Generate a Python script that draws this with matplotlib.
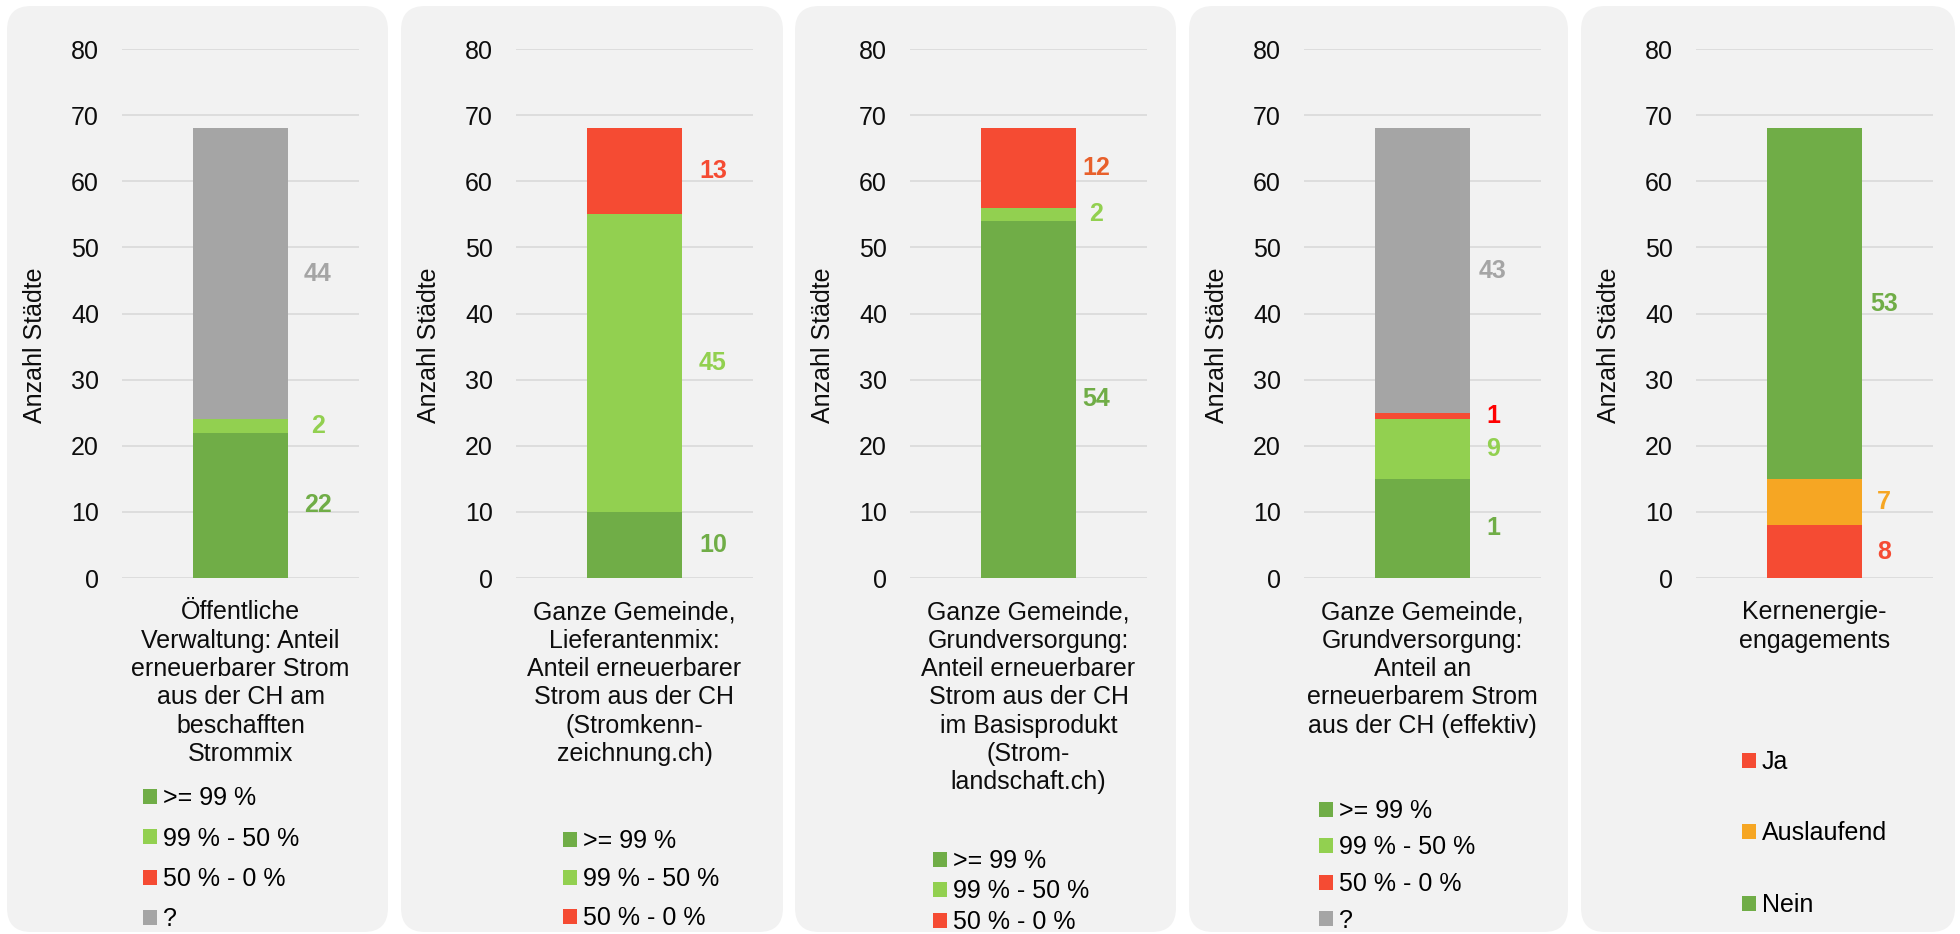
import matplotlib
matplotlib.use("Agg")
import matplotlib.pyplot as plt
from matplotlib.patches import FancyBboxPatch

plt.rcParams['font.family'] = ['Liberation Sans', 'DejaVu Sans']

# ---------------- data ----------------
categories = [
    "Öffentliche\nVerwaltung: Anteil\nerneuerbarer Strom\naus der CH am\nbeschafften\nStrommix",
    "Ganze Gemeinde,\nLieferantenmix:\nAnteil erneuerbarer\nStrom aus der CH\n(Stromkenn-\nzeichnung.ch)",
    "Ganze Gemeinde,\nGrundversorgung:\nAnteil erneuerbarer\nStrom aus der CH\nim Basisprodukt\n(Strom-\nlandschaft.ch)",
    "Ganze Gemeinde,\nGrundversorgung:\nAnteil an\nerneuerbarem Strom\naus der CH (effektiv)",
    "Kernenergie-\nengagements",
]
share_series = [">= 99 %", "99 % - 50 %", "50 % - 0 %", "?"]
nuclear_series = ["Ja", "Auslaufend", "Nein"]

p1_values = [22, 2, 0, 44]
p2_values = [10, 45, 13]
p3_values = [54, 2, 12]
p4_values = [15, 9, 1, 43]
p4_shown_labels = ["1", "9", "1", "43"]
p5_values = [8, 7, 53]

y_ticks = [0, 10, 20, 30, 40, 50, 60, 70, 80]
y_label = "Anzahl Städte"

# ---------------- styles ----------------
DGREEN, LGREEN, RED, GREY, ORANGE = "#70ad47", "#92d050", "#f54b33", "#a5a5a5", "#f6a623"

panels = [
    dict(series=share_series, values=p1_values, shown=None,
         colors=[DGREEN, LGREEN, RED, GREY],
         label_colors=[DGREEN, LGREEN, RED, GREY]),
    dict(series=share_series[:3], values=p2_values, shown=None,
         colors=[DGREEN, LGREEN, RED],
         label_colors=[DGREEN, LGREEN, RED]),
    dict(series=share_series[:3], values=p3_values, shown=None,
         colors=[DGREEN, LGREEN, RED],
         label_colors=[DGREEN, LGREEN, "#e8602b"]),
    dict(series=share_series, values=p4_values, shown=p4_shown_labels,
         colors=[DGREEN, LGREEN, RED, GREY],
         label_colors=[DGREEN, LGREEN, "#ff0000", GREY]),
    dict(series=nuclear_series, values=p5_values, shown=None,
         colors=[RED, ORANGE, DGREEN],
         label_colors=[RED, ORANGE, DGREEN]),
]

W, H, DPI = 1960, 934, 100
panel_left = [7, 401, 795, 1189, 1581]
panel_right = [388, 783, 1176, 1568, 1955]
label_offset_px = [30, 31, 20, 23, 22]
legend_pos = [(143, 786), (563, 829), (933, 849), (1319, 799), (1742, 750)]
legend_spacing = [0.66, 0.58, 0.26, 0.50, 1.90]

fig = plt.figure(figsize=(W / DPI, H / DPI), dpi=DPI)
fig.patch.set_facecolor("white")

AX_TOP, AX_BOT = 49, 578
for i, p in enumerate(panels):
    pl = panel_left[i]
    bg = FancyBboxPatch((pl, H - 932), panel_right[i] - pl, 926,
                        boxstyle="round,pad=0,rounding_size=24",
                        transform=None, facecolor="#f2f2f2", edgecolor="none", zorder=-5)
    fig.add_artist(bg)

    ax = fig.add_axes([(pl + 115) / W, 1 - AX_BOT / H, 237 / W, (AX_BOT - AX_TOP) / H])
    ax.set_facecolor("none")
    bottom = 0
    containers = []
    for j, (name, v) in enumerate(zip(p["series"], p["values"])):
        bc = ax.bar([0], [v], width=0.4, bottom=bottom, color=p["colors"][j],
                    label=name, zorder=3)
        containers.append(bc)
        if v > 0:
            txt = p["shown"][j] if p["shown"] else str(v)
            ax.annotate(txt, xy=(0.2, bottom + v / 2),
                        xytext=(label_offset_px[i] * 72 / DPI, 0), textcoords="offset points",
                        ha="center", va="center", fontsize=18, fontweight="bold",
                        color=p["label_colors"][j])
        bottom += v

    ax.set_xlim(-0.5, 0.5)
    ax.set_ylim(0, 80)
    ax.set_yticks(y_ticks)
    ax.set_xticks([0])
    ax.set_xticklabels([categories[i]], fontsize=18, linespacing=1.23, color="#0d0d0d")
    ax.tick_params(axis="y", length=0, pad=16.5, labelsize=18, labelcolor="#0d0d0d")
    ax.tick_params(axis="x", length=0, pad=16)
    for s in ax.spines.values():
        s.set_visible(False)
    ax.grid(axis="y", color="#d9d9d9", linewidth=1.2, zorder=0)
    ax.set_axisbelow(True)
    ax.set_ylabel(y_label, fontsize=18, color="#0d0d0d")
    ax.yaxis.set_label_coords(-0.316, 0.44)

    lx, ly = legend_pos[i]
    ax.legend(handles=containers, loc="upper left",
              bbox_to_anchor=(lx / W, 1 - ly / H), bbox_transform=fig.transFigure,
              frameon=False, fontsize=18, borderpad=0, borderaxespad=0,
              handlelength=0.55, handleheight=0.55, handletextpad=0.25,
              labelspacing=legend_spacing[i])

fig.savefig("out.png", dpi=DPI, facecolor="white")
